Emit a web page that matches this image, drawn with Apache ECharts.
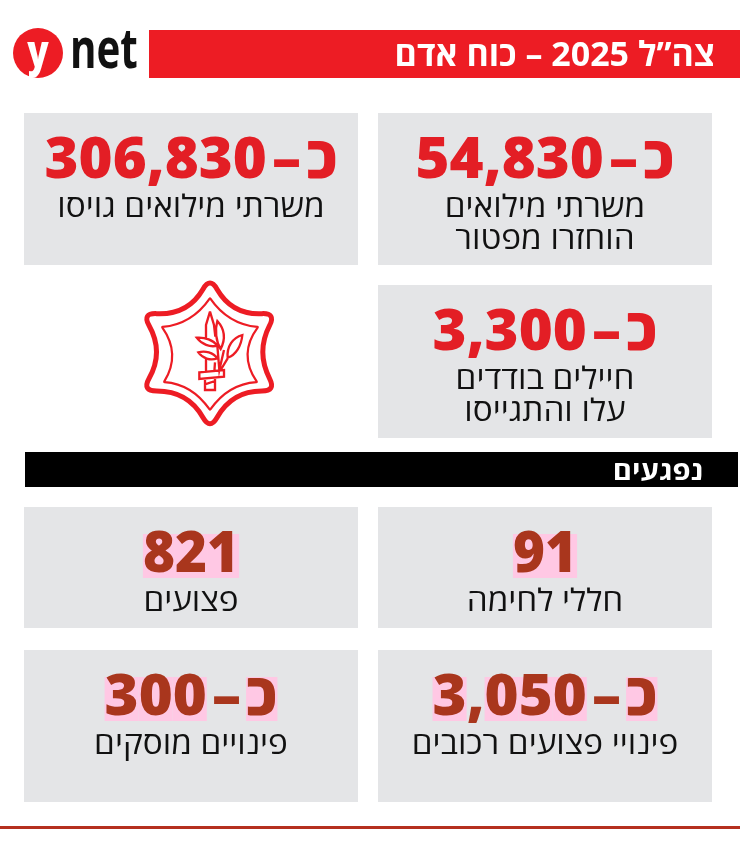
<!DOCTYPE html>
<html lang="he">
<head>
<meta charset="utf-8">
<style>
  html, body { margin: 0; padding: 0; background: #fff; }
  #chart { width: 740px; height: 857px; }
</style>
<script src="https://cdn.jsdelivr.net/npm/echarts@6/dist/echarts.min.js"></script>
</head>
<body>
<div id="chart" dir="rtl"></div>
<script>
// values
const titleText = 'צה”ל 2025 – כוח אדם';
const sectionText = 'נפגעים';
const columns = ['left', 'right'];
const cardValues = [54830, 306830, 3300, 91, 821, 3050, 300];
const cardApprox = [true, true, true, false, false, true, true];
const cardColumns = ['right', 'left', 'right', 'right', 'left', 'right', 'left'];
const cardRows = [0, 0, 1, 2, 2, 3, 3];
const cardLabels = [
    ['משרתי מילואים', 'הוחזרו מפטור'],
    ['משרתי מילואים גויסו'],
    ['חיילים בודדים', 'עלו והתגייסו'],
    ['חללי לחימה'],
    ['פצועים'],
    ['פינויי פצועים רכובים'],
    ['פינויים מוסקים'],
];

// layout, in picture pixels
const W = 740, H = 857;
const RED = '#ed1c24', CARD = '#e4e5e7';
const ROW_TOP = [113, 285, 507, 650];
const ROW_H = [152, 153, 121, 152];
const FONT = '"Open Sans", "Liberation Sans", sans-serif';

// the two lower rows carry the pink print ghost behind the figures
function numberStyle(i) {
    const ghost = ROW_TOP[cardRows[i]] > 500;
    const base = { fontFamily: FONT, fontWeight: 800, fontSize: 57, fill: ghost ? '#a9361d' : '#e31e25' };
    const glyph = ghost ? Object.assign({ backgroundColor: '#ffc8e4', height: 44 }, base) : base;
    const digits = cardValues[i].toLocaleString('en-US').split('');
    const spans = digits.map(c => c === ',' ? '{b|,}' : '{g|' + c + '}').join('');
    return {
        text: spans + (cardApprox[i] ? '{d|–}{g|כ}' : ''),
        rich: {
            g: glyph,
            b: base,
            d: Object.assign({}, base, { padding: [0, 5, 0, 5] }),
        },
    };
}

function renderCard(params, api) {
    const i = params.dataIndex;
    const row = cardRows[i];
    const centre = api.coord([api.value(0), 0])[0];
    const top = api.coord([0, ROW_TOP[row]])[1];
    const bottom = api.coord([0, ROW_TOP[row] + ROW_H[row]])[1];
    const width = api.size([1, 0])[0] - 20;
    const children = [{
        type: 'rect',
        shape: { x: centre - width / 2, y: top, width: width, height: bottom - top },
        style: { fill: CARD },
    }, {
        type: 'text',
        x: centre,
        y: top + 49,
        scaleX: cardApprox[i] ? 1.02 : 0.96,
        style: Object.assign({
            x: 0,
            y: 0,
            align: 'center',
            verticalAlign: 'middle',
        }, numberStyle(i)),
    }];
    cardLabels[i].forEach((line, k) => {
        children.push({
            type: 'text',
            x: centre,
            y: top + 95 + k * 32,
            scaleX: 1.075,
            style: {
                text: line,
                x: 0,
                y: 0,
                align: 'center',
                verticalAlign: 'middle',
                font: '400 31px ' + FONT,
                fill: '#111',
            },
        });
    });
    return { type: 'group', children: children };
}

// six pointed star with rounded tips
function starPath(tips, waists, cut) {
    const lerp = (a, b, t) => [a[0] + (b[0] - a[0]) * t, a[1] + (b[1] - a[1]) * t];
    let d = '';
    tips.forEach((t, i) => {
        const before = lerp(t, waists[(i + 5) % 6], cut);
        const after = lerp(t, waists[i], cut);
        d += (i === 0 ? 'M' : 'L') + before.join(' ') + 'Q' + t.join(' ') + ' ' + after.join(' ');
        const next = lerp(tips[(i + 1) % 6], waists[i], cut);
        d += 'Q' + waists[i].join(' ') + ' ' + next.join(' ');
    });
    return d + 'Z';
}

const outerTips = [[210, 277], [276, 313], [276, 391], [210, 430], [142, 391], [142, 313]];
const outerWaists = [[232, 315], [256, 352], [232, 391], [188, 391], [164, 352], [188, 315]];
const innerTips = [[210, 298], [258, 327], [257, 382], [210, 410], [164, 382], [162, 327]];
const innerWaists = [[228, 324], [238, 354], [228, 384], [192, 384], [181, 354], [192, 324]];

// emblem sword and leaves, drawn at 3x and scaled down
const swordPath = 'M240 110 L228 150 L228 190 M240 110 L252 150 L256 185 '
    + 'M228 250 L228 290 M255 262 L253 290 '
    + 'M208 292 L282 285 L282 305 L208 312 Z '
    + 'M225 312 L225 345 L255 345 L255 308 M225 328 L255 318 '
    + 'M262 138 C282 160 288 190 272 222 C258 200 254 165 262 138 Z '
    + 'M200 188 C225 186 250 195 262 212 C240 218 215 208 200 188 Z '
    + 'M205 232 C225 226 250 232 262 250 C240 258 218 250 205 232 Z '
    + 'M337 180 C308 188 290 215 293 248 C318 240 334 212 337 180 Z '
    + 'M293 250 L272 285 M262 212 L268 285 L282 225';

function renderEmblem() {
    return {
        type: 'group',
        children: [
            { type: 'path', shape: { pathData: starPath(outerTips, outerWaists, 0.32) },
                style: { fill: 'none', stroke: RED, lineWidth: 5, lineJoin: 'round' } },
            { type: 'path', shape: { pathData: starPath(innerTips, innerWaists, 0.02) },
                style: { fill: 'none', stroke: RED, lineWidth: 2.2 } },
            { type: 'path', x: 130, y: 275, scaleX: 1 / 3, scaleY: 1 / 3, shape: { pathData: swordPath },
                style: { fill: 'none', stroke: RED, lineWidth: 7 } },
        ],
    };
}

const option = {
    backgroundColor: '#fff',
    animation: false,
    grid: { left: 14, right: 18, top: 0, bottom: 0 },
    xAxis: { type: 'category', data: columns, show: false },
    yAxis: { type: 'value', min: 0, max: H, inverse: true, show: false },
    series: [{
        type: 'custom',
        coordinateSystem: 'cartesian2d',
        renderItem: renderCard,
        data: cardValues.map((v, i) => [cardColumns[i], cardRows[i], v]),
        encode: { x: 0, y: 1 },
        silent: true,
    }, {
        type: 'custom',
        coordinateSystem: 'none',
        renderItem: renderEmblem,
        data: [0],
        silent: true,
    }],
    graphic: [
        { type: 'circle', shape: { cx: 38, cy: 53, r: 25 }, style: { fill: RED } },
        { type: 'text', x: 38, y: 54, scaleX: 0.8, style: { text: 'y', x: 0, y: 0, align: 'center', verticalAlign: 'middle',
            font: '800 44px "Open Sans", sans-serif', fill: '#fff' } },
        { type: 'text', x: 70, y: 52, scaleX: 0.72, style: { text: 'net', x: 0, y: 0, align: 'left', verticalAlign: 'middle',
            font: '700 56px "Open Sans", sans-serif', fill: '#111' } },
        { type: 'rect', shape: { x: 149, y: 30, width: 591, height: 48 }, style: { fill: RED } },
        { type: 'text', style: { text: titleText, x: 715, y: 56, align: 'right', verticalAlign: 'middle',
            font: '700 34px ' + FONT, fill: '#fff' } },
        { type: 'rect', shape: { x: 25, y: 452, width: 713, height: 35 }, style: { fill: '#000' } },
        { type: 'text', x: 703, y: 472, scaleX: 1.08, style: { text: sectionText, x: 0, y: 0, align: 'right', verticalAlign: 'middle',
            font: '700 27px ' + FONT, fill: '#fff' } },
        { type: 'rect', shape: { x: 0, y: 826, width: 740, height: 3 }, style: { fill: '#b5301f' } },
    ],
};

const chart = echarts.init(document.getElementById('chart'));
chart.setOption(option);
</script>
</body>
</html>
